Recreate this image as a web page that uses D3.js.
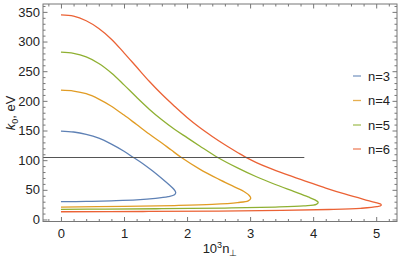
<!DOCTYPE html>
<html><head><meta charset="utf-8">
<script src="https://cdn.jsdelivr.net/npm/d3@7"></script>
<style>body{margin:0;background:#fff}svg{display:block}text{font-family:"Liberation Sans",Arial,sans-serif}</style>
</head><body>
<svg id="c" width="399" height="261"></svg>
<script>
const seriesNames = ["n=3","n=4","n=5","n=6"];
const seriesColors = ["#5E81B5","#E19C24","#8FB032","#EB6235"];
// each curve: upper branch from x=0 to the tip, then lower branch back to x=0
const n3X = [0,0.2,0.4,0.6,0.8,1.0,1.15,1.3,1.45,1.6,1.72,1.79,1.82,1.8,1.7,1.5,1.2,0.8,0.4,0];
const n3K = [149,147.5,143.5,137,127,115,104.5,94,82,69,58,51,45.5,41.5,38.5,35.5,33,31.5,30.5,30];
const n4X = [0,0.2,0.4,0.6,0.8,1.0,1.2,1.4,1.6,1.75,1.91,2.2,2.5,2.75,2.92,2.99,3.01,2.97,2.8,2.4,1.8,1.0,0];
const n4K = [218,216.5,212,203,191,176,160,144,129,117,104.5,85,68,55,46,40,35.5,31.5,28.5,25.5,23.5,22,21];
const n5X = [0,0.2,0.4,0.6,0.8,1.0,1.2,1.4,1.6,1.8,2.0,2.2,2.48,2.8,3.1,3.4,3.7,3.92,4.03,4.08,4.05,3.85,3.4,2.6,1.6,0.7,0];
const n5K = [282,280,274,263,247,227,206,186,168,152,138,124,105,87,72,59,47,38,33,29,25.5,23,21,19.3,18.2,17.5,17];
const n6X = [0,0.2,0.4,0.6,0.8,1.0,1.2,1.4,1.6,1.8,2.0,2.2,2.4,2.6,2.8,2.92,3.1,3.3,3.55,3.9,4.2,4.5,4.8,4.98,5.07,5.08,5.01,4.75,4.25,3.5,2.5,1.3,0];
const n6K = [345,343,335,322,304,281,257,233,211,191,172,155,140,126,113,105.5,96,87,77,64,53,43,34,29,26,24,21.5,18.8,16.8,15.2,14.2,13.5,13];
const refLineX = [-0.285, 3.86];
const refLineK = [104.5, 104.5];
const xTicks = [0,1,2,3,4,5];
const yTicks = [0,50,100,150,200,250,300,350];

const allX = [n3X,n4X,n5X,n6X], allK = [n3K,n4K,n5K,n6K];
const svg = d3.select("#c");
const L=43,R=397,T=4,B=221.5;
const x = d3.scaleLinear().domain([-0.285,5.33]).range([L,R]);
const y = d3.scaleLinear().domain([-3.4,363.3]).range([B,T]);
const frameCol="#777";

// curves
const line = d3.line().x(d=>x(d[0])).y(d=>y(d[1])).curve(d3.curveCatmullRom.alpha(0.5));
allX.forEach((xs,i)=>{
  const pts = xs.map((v,j)=>[v,allK[i][j]]);
  svg.append("path").attr("d",line(pts)).attr("fill","none")
    .attr("stroke",seriesColors[i]).attr("stroke-width",1.3);
});
// reference line
svg.append("path").attr("d",d3.line().x(d=>x(d[0])).y(d=>y(d[1]))(refLineX.map((v,j)=>[v,refLineK[j]])))
  .attr("stroke","#555").attr("stroke-width",1).attr("fill","none");

// frame
svg.append("rect").attr("x",L).attr("y",T).attr("width",R-L).attr("height",B-T)
  .attr("fill","none").attr("stroke",frameCol).attr("stroke-width",1);

// ticks via axes (inward)
const xMinor = d3.range(-0.2,5.31,0.2).filter(v=>Math.abs(v-Math.round(v))>1e-6);
const yMinor = d3.range(0,361,10).filter(v=>v%50!==0);
function styleAx(g){g.select(".domain").remove();g.selectAll("line").attr("stroke",frameCol);g.selectAll("text").attr("fill","#222").attr("font-size",13);}
svg.append("g").attr("transform",`translate(0,${B})`).call(d3.axisBottom(x).tickValues(xTicks).tickSize(-4.5).tickPadding(7).tickFormat(d3.format("d"))).call(styleAx);
svg.append("g").attr("transform",`translate(0,${B})`).call(d3.axisBottom(x).tickValues(xMinor).tickSize(-2.5).tickFormat("")).call(styleAx);
svg.append("g").attr("transform",`translate(0,${T})`).call(d3.axisTop(x).tickValues(xTicks).tickSize(-4.5).tickFormat("")).call(styleAx);
svg.append("g").attr("transform",`translate(0,${T})`).call(d3.axisTop(x).tickValues(xMinor).tickSize(-2.5).tickFormat("")).call(styleAx);
svg.append("g").attr("transform",`translate(${L},0)`).call(d3.axisLeft(y).tickValues(yTicks).tickSize(-4.5).tickPadding(3).tickFormat(d3.format("d"))).call(styleAx);
svg.append("g").attr("transform",`translate(${L},0)`).call(d3.axisLeft(y).tickValues(yMinor).tickSize(-2.5).tickFormat("")).call(styleAx);
svg.append("g").attr("transform",`translate(${R},0)`).call(d3.axisRight(y).tickValues(yTicks).tickSize(-4.5).tickFormat("")).call(styleAx);
svg.append("g").attr("transform",`translate(${R},0)`).call(d3.axisRight(y).tickValues(yMinor).tickSize(-2.5).tickFormat("")).call(styleAx);

// axis titles
const xt = svg.append("text").attr("x",220).attr("y",253).attr("text-anchor","middle").attr("font-size",13).attr("fill","#222");
xt.append("tspan").text("10");
xt.append("tspan").attr("dy",-5).attr("font-size",9).text("3");
xt.append("tspan").attr("dy",5).text("n");
xt.append("tspan").attr("dy",3).attr("font-size",9).text("⊥");
const yt = svg.append("text").attr("transform","translate(15,113) rotate(-90)").attr("text-anchor","middle").attr("font-size",13).attr("fill","#222");
yt.append("tspan").attr("font-style","italic").text("k");
yt.append("tspan").attr("dy",3).attr("font-size",9).text("0");
yt.append("tspan").attr("dy",-3).text(", eV");

// legend
const legY = [76,100.5,125,149];
seriesNames.forEach((nm,i)=>{
  svg.append("line").attr("x1",353).attr("x2",361).attr("y1",legY[i]).attr("y2",legY[i])
    .attr("stroke",seriesColors[i]).attr("stroke-width",1.3).attr("opacity",0.8);
  svg.append("text").attr("x",368).attr("y",legY[i]+4.5).attr("font-size",13).attr("fill","#222").text(nm);
});
</script>
</body></html>
